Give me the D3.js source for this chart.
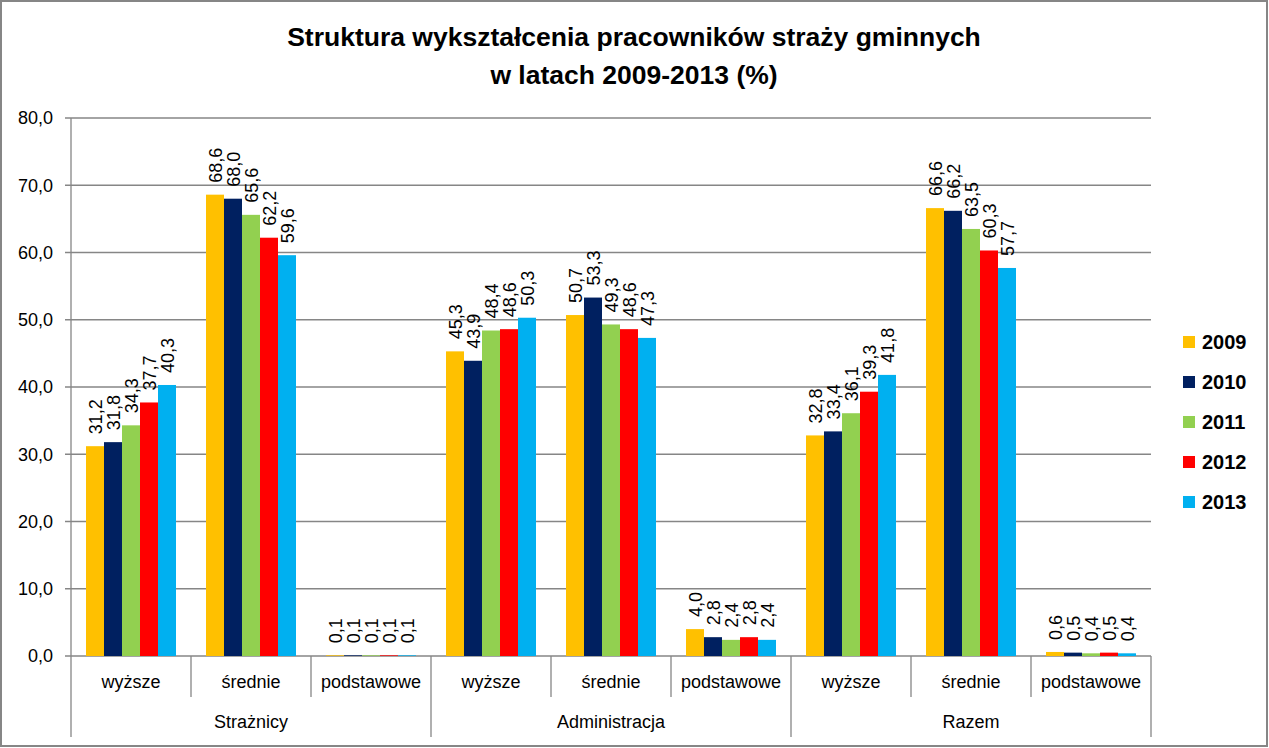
<!DOCTYPE html>
<html><head><meta charset="utf-8">
<script src="https://cdn.jsdelivr.net/npm/d3@7"></script>
<style>body{margin:0;background:#fff}svg{display:block}</style>
</head><body>
<svg id="c" width="1269" height="748"></svg>
<script>
const groups = ["Strażnicy", "Administracja", "Razem"];
const levels = ["wyższe", "średnie", "podstawowe"];
const years = ["2009", "2010", "2011", "2012", "2013"];
const colors = ["#FFC000", "#002060", "#92D050", "#FF0000", "#00B0F0"];
// values per year, in order: Strażnicy(wyższe, średnie, podstawowe), Administracja(...), Razem(...)
const v2009 = [31.2, 68.6, 0.1, 45.3, 50.7, 4.0, 32.8, 66.6, 0.6];
const v2010 = [31.8, 68.0, 0.1, 43.9, 53.3, 2.8, 33.4, 66.2, 0.5];
const v2011 = [34.3, 65.6, 0.1, 48.4, 49.3, 2.4, 36.1, 63.5, 0.4];
const v2012 = [37.7, 62.2, 0.1, 48.6, 48.6, 2.8, 39.3, 60.3, 0.5];
const v2013 = [40.3, 59.6, 0.1, 50.3, 47.3, 2.4, 41.8, 57.7, 0.4];
const yTicks = [0, 10, 20, 30, 40, 50, 60, 70, 80];
const title1 = "Struktura wykształcenia pracowników straży gminnych";
const title2 = "w latach 2009-2013 (%)";

const series = [v2009, v2010, v2011, v2012, v2013];
const cats = [];
groups.forEach(g => levels.forEach(l => cats.push(g + "|" + l)));

const svg = d3.select("#c");
const W = 1269, H = 748;
const L = 71, R = 1151, T = 118, B = 656;
const font = "'Liberation Sans', Arial, sans-serif";

svg.append("rect").attr("x", 1).attr("y", 1).attr("width", W - 3).attr("height", H - 3)
  .attr("fill", "#fff").attr("stroke", "#868686").attr("stroke-width", 2);

const x = d3.scaleBand().domain(cats).range([L, R]).paddingInner(0.25).paddingOuter(0.125);
const xFull = d3.scaleBand().domain(cats).range([L, R]);
const xs = d3.scaleBand().domain(years).range([0, x.bandwidth()]);
const y = d3.scaleLinear().domain([0, 80]).range([B, T]);

// gridlines
svg.append("g").selectAll("line").data(yTicks).join("line")
  .attr("x1", L - 6).attr("x2", R).attr("y1", d => y(d)).attr("y2", d => y(d))
  .attr("stroke", "#868686").attr("stroke-width", 1.3);
svg.append("line").attr("x1", L).attr("x2", L).attr("y1", T).attr("y2", B)
  .attr("stroke", "#868686").attr("stroke-width", 1.3);

// y labels
const fmt = d => d.toFixed(1).replace(".", ",");
svg.append("g").selectAll("text").data(yTicks).join("text")
  .attr("x", L - 18).attr("y", d => y(d)).attr("dy", "0.35em").attr("text-anchor", "end")
  .attr("font-family", font).attr("font-size", 18).attr("fill", "#000").text(fmt);

// bars
years.forEach((yr, si) => {
  const g = svg.append("g");
  g.selectAll("rect").data(series[si]).join("rect")
    .attr("x", (d, i) => x(cats[i]) + xs(yr))
    .attr("width", xs.bandwidth())
    .attr("y", d => y(d)).attr("height", d => B - y(d))
    .attr("fill", colors[si]);
  g.selectAll("text").data(series[si]).join("text")
    .attr("transform", (d, i) => `translate(${x(cats[i]) + xs(yr) + xs.bandwidth() / 2 + 6.5},${y(d) - 12}) rotate(-90)`)
    .attr("font-family", font).attr("font-size", 18).attr("fill", "#000")
    .text(d => fmt(d));
});

// category axis
const ax = svg.append("g");
cats.forEach((c, i) => {
  const x0 = xFull(c);
  const isGroupStart = i % 3 === 0;
  ax.append("line").attr("x1", x0).attr("x2", x0).attr("y1", B).attr("y2", isGroupStart ? 737 : 697)
    .attr("stroke", "#868686").attr("stroke-width", 1.3);
  ax.append("text").attr("x", x0 + xFull.bandwidth() / 2).attr("y", 688)
    .attr("text-anchor", "middle").attr("font-family", font).attr("font-size", 18)
    .text(c.split("|")[1]);
});
ax.append("line").attr("x1", R).attr("x2", R).attr("y1", B).attr("y2", 737)
  .attr("stroke", "#868686").attr("stroke-width", 1.3);
groups.forEach((g, gi) => {
  const x0 = xFull(cats[gi * 3]);
  ax.append("text").attr("x", x0 + xFull.bandwidth() * 1.5).attr("y", 728)
    .attr("text-anchor", "middle").attr("font-family", font).attr("font-size", 18).text(g);
});

// title
svg.append("text").attr("x", 634).attr("y", 46).attr("text-anchor", "middle")
  .attr("font-family", font).attr("font-weight", "bold").attr("font-size", 26.5).text(title1);
svg.append("text").attr("x", 634).attr("y", 84).attr("text-anchor", "middle")
  .attr("font-family", font).attr("font-weight", "bold").attr("font-size", 26.5).text(title2);

// legend
const lg = svg.append("g");
years.forEach((yr, i) => {
  const cy = 342 + i * 40;
  lg.append("rect").attr("x", 1183).attr("y", cy - 6).attr("width", 12).attr("height", 12).attr("fill", colors[i]);
  lg.append("text").attr("x", 1202).attr("y", cy).attr("dy", "0.36em")
    .attr("font-family", font).attr("font-weight", "bold").attr("font-size", 20).text(yr);
});
</script>
</body></html>
